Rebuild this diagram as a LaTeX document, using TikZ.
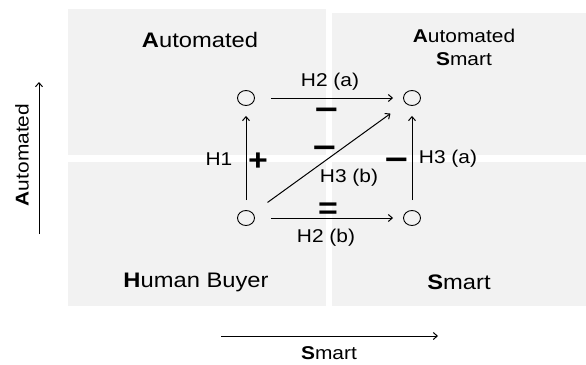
\documentclass[tikz,border=0pt]{standalone}
\usepackage{fontspec}
\setmainfont{Liberation Sans}[FakeStretch=1.13]
\usetikzlibrary{arrows.meta,shapes.geometric}

\begin{document}
\begin{tikzpicture}[x=1pt, y=-1pt,
    quad/.style={fill=quadbg, draw=none},
    qlabel/.style={font=\fontsize{21}{23}\selectfont, align=center, inner sep=0pt},
    slabel/.style={font=\fontsize{18.5}{23}\selectfont, align=center, inner sep=0pt},
    sign/.style={font=\fontsize{30}{30}\selectfont\bfseries, inner sep=0pt},
    minussign/.style={font=\fontsize{36}{36}\selectfont\bfseries, inner sep=0pt},
    dot/.style={ellipse, draw, line width=0.9pt, minimum width=17pt,
                minimum height=15pt, inner sep=0pt},
    link/.style={-{Straight Barb[length=4pt,width=7pt]}, line width=1pt},
]

% Colors
\definecolor{quadbg}{HTML}{F2F2F2}

\useasboundingbox (0,0) rectangle (586,364);

% === Quadrants ===
\fill[quad] (68,9)    rectangle (326,155);
\fill[quad] (332,13)  rectangle (586,155);
\fill[quad] (68,162)  rectangle (326,306);
\fill[quad] (332,162) rectangle (586,306);

\node[qlabel] (lblA)  at (200,40)  {\textbf{A}utomated};
\node[slabel] (lblAS) at (464,47)  {\textbf{A}utomated\\\textbf{S}mart};
\node[qlabel] (lblH)  at (196,282) {\textbf{H}uman Buyer};
\node[qlabel] (lblS)  at (459,282) {\textbf{S}mart};

% === Axes ===
\coordinate (ya0) at (39,234);
\coordinate (ya1) at (39,82);
\coordinate (xa0) at (221,336);
\coordinate (xa1) at (438,336);
\draw[link] (ya0) -- (ya1);
\draw[link] (xa0) -- (xa1);
\node[slabel, rotate=90] (axA) at (22,155) {\textbf{A}utomated};
\node[slabel] (axS) at (329,353) {\textbf{S}mart};

% === Model ===
\node[dot] (au) at (246,98)  {};
\node[dot] (as) at (412,98)  {};
\node[dot] (hb) at (246,218) {};
\node[dot] (sm) at (412,218) {};

\draw[link, shorten <=16pt, shorten >=10pt] (au) -- (as);
\draw[link, shorten <=16pt, shorten >=10pt] (hb) -- (sm);
\draw[link, shorten <=10pt, shorten >=10pt] (hb) -- (au);
\draw[link, shorten <=10pt, shorten >=10pt] (sm) -- (as);
\draw[link, shorten <=18pt, shorten >=18pt] (hb) -- (as);

\node[slabel] (h2a) at (330,82)  {H2 (a)};
\node[slabel] (h2b) at (326,238) {H2 (b)};
\node[slabel] (h1)  at (219,159) {H1};
\node[slabel] (h3a) at (448,159) {H3 (a)};
\node[slabel] (h3b) at (349,178) {H3 (b)};

\node[minussign] (s2a) at (327,114) {--};
\node[minussign] (s3b) at (325,152) {--};
\node[minussign] (s3a) at (397,164) {--};
\node[sign] (s1)  at (258,162) {+};
\node[sign] (s2b) at (328,211) {=};
\end{tikzpicture}
\end{document}
